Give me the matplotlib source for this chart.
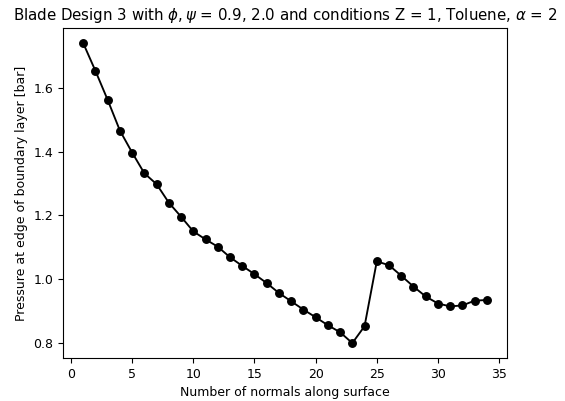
import numpy as np
import matplotlib
matplotlib.use('Agg')
import matplotlib.pyplot as plt

# Normal index along the blade surface
normals = list(range(1, 35))

# Pressure at edge of boundary layer [bar]
pressure = [
    1.74, 1.653, 1.562, 1.466, 1.397, 1.332, 1.298, 1.240, 1.196, 1.150,
    1.125, 1.102, 1.069, 1.042, 1.016, 0.988, 0.957, 0.931, 0.905, 0.881,
    0.856, 0.834, 0.800, 0.853, 1.056, 1.044, 1.011, 0.977, 0.946, 0.924,
    0.915, 0.918, 0.933, 0.935,
]

plt.rcParams['font.size'] = 9

fig = plt.figure(figsize=(5.65, 4.01), dpi=100)
ax = fig.add_axes([0.1115, 0.107, 0.786, 0.823])
ax.plot(normals, pressure, 'ko-', markersize=5.4, linewidth=1.35)
ax.set_xlabel('Number of normals along surface', fontsize=9)
ax.set_ylabel('Pressure at edge of boundary layer [bar]', fontsize=9)
ax.set_title(r'Blade Design 3 with $\phi, \psi$ = 0.9, 2.0 and conditions Z = 1, Toluene, $\alpha$ = 2',
             fontsize=10.8)
ax.set_xticks([0, 5, 10, 15, 20, 25, 30, 35])
ax.set_yticks([0.8, 1.0, 1.2, 1.4, 1.6])
ax.tick_params(labelsize=9)
fig.savefig('out.png', dpi=100)
